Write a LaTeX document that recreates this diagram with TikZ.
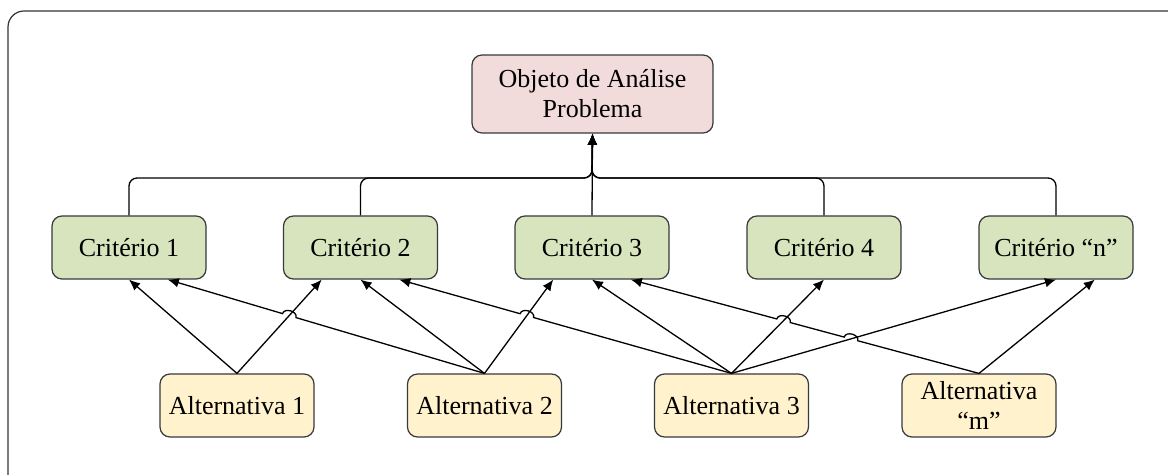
\documentclass[tikz,border=0pt]{standalone}
\usepackage{fontspec}
\setmainfont{Liberation Serif}
\usetikzlibrary{arrows.meta,calc}
\definecolor{pinkfill}{HTML}{F2DCDB}
\definecolor{greenfill}{HTML}{D7E4BD}
\definecolor{yellowfill}{HTML}{FFF2CC}
\definecolor{edgegray}{HTML}{36393D}
\begin{document}
\begin{tikzpicture}[x=0.5pt,y=-0.5pt,
  box/.style={draw=edgegray, line width=0.6pt, rounded corners=5pt, minimum width=77pt, minimum height=31.5pt, inner sep=2pt, align=center, font=\fontsize{13}{15}\selectfont, text=black},
  objbox/.style={box, fill=pinkfill, minimum width=120.5pt, minimum height=39pt},
  critbox/.style={box, fill=greenfill},
  altbox/.style={box, fill=yellowfill},
  link/.style={draw=black, line width=0.65pt, -{Latex[length=5.5pt,width=4.8pt]}},
  treelink/.style={link, rounded corners=4pt},
  jump/.style={bend right=90, looseness=1.2},
  frame/.style={draw=black!80, line width=0.6pt, rounded corners=8pt}]
\useasboundingbox (0,0) rectangle (1168,475);
\draw[frame] (8,475) -- (8,11) -- (1168,11);

\node[objbox] (obj) at (592.5,94) {Objeto de Análise\\Problema};
\node[critbox] (c1) at (129,247.5) {Critério 1};
\node[critbox] (c2) at (360.5,247.5) {Critério 2};
\node[critbox] (c3) at (592,247.5) {Critério 3};
\node[critbox] (c4) at (824,247.5) {Critério 4};
\node[critbox] (cn) at (1056,247.5) {Critério “n”};
\node[altbox] (a1) at (237,405.5) {Alternativa 1};
\node[altbox] (a2) at (484.5,405.5) {Alternativa 2};
\node[altbox] (a3) at (731.5,405.5) {Alternativa 3};
\node[altbox] (am) at (979,405.5) {Alternativa\\“m”};

\coordinate (bus) at (592,178);
\draw[treelink] (c1.north) |- (bus) -- (obj.south);
\draw[treelink] (c2.north) |- (bus) -- (obj.south);
\draw[treelink] (c3.north) -- (obj.south);
\draw[treelink] (c4.north) |- (bus) -- (obj.south);
\draw[treelink] (cn.north) |- (bus) -- (obj.south);

\coordinate (c1r) at ($(c1.south west)!0.75!(c1.south east)$);
\coordinate (c2l) at ($(c2.south west)!0.25!(c2.south east)$);
\coordinate (c2r) at ($(c2.south west)!0.75!(c2.south east)$);
\coordinate (c3l) at ($(c3.south west)!0.25!(c3.south east)$);
\coordinate (c3r) at ($(c3.south west)!0.75!(c3.south east)$);
\coordinate (cnr) at ($(cn.south west)!0.75!(cn.south east)$);

\draw[link] (a1.north) -- (c1.south);
\draw[link] (a1.north) -- (c2l);
\draw[link] (a2.north) -- (c2.south);
\draw[link] (a2.north) -- (c3l);
\draw[link] (a3.north) -- (c3.south);
\draw[link] (a3.north) -- (c4.south);
\draw[link] (a3.north) -- (cn.south);
\draw[link] (am.north) -- (cnr);

\coordinate (j1) at (intersection of a1.north--c2l and a2.north--c1r);
\draw[link] (a2.north) -- ($(j1)!3.5pt!(a2.north)$) to[jump] ($(j1)!3.5pt!(c1r)$) -- (c1r);

\coordinate (j2) at (intersection of a2.north--c3l and a3.north--c2r);
\draw[link] (a3.north) -- ($(j2)!3.5pt!(a3.north)$) to[jump] ($(j2)!3.5pt!(c2r)$) -- (c2r);

\coordinate (j3) at (intersection of a3.north--cn.south and am.north--c3r);
\coordinate (j4) at (intersection of a3.north--c4.south and am.north--c3r);
\draw[link] (am.north) -- ($(j3)!3.5pt!(am.north)$) to[jump] ($(j3)!3.5pt!(c3r)$)
  -- ($(j4)!3.5pt!(am.north)$) to[jump] ($(j4)!3.5pt!(c3r)$) -- (c3r);
\end{tikzpicture}
\end{document}
